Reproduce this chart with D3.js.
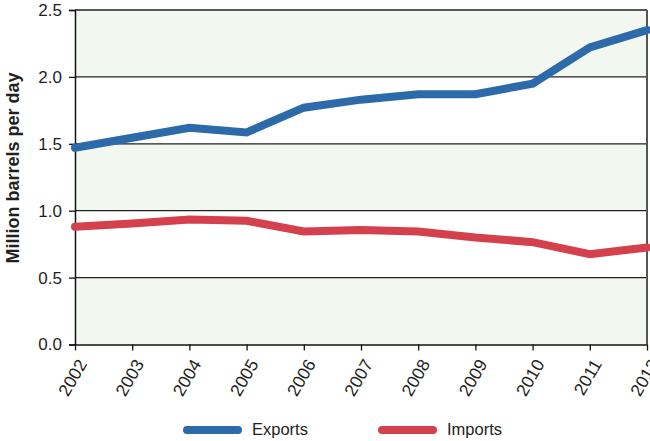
<!DOCTYPE html>
<html><head><meta charset="utf-8">
<script src="https://cdn.jsdelivr.net/npm/d3@7"></script>
<style>
body{margin:0;background:#fff;}
svg text{font-family:"Liberation Sans",Arial,sans-serif;fill:#231f20;}
</style></head><body>
<svg id="c" width="650" height="441"></svg>
<script>
const years = ["2002","2003","2004","2005","2006","2007","2008","2009","2010","2011","2012"];
const exportsVals = [1.47,1.545,1.62,1.585,1.77,1.83,1.87,1.87,1.95,2.22,2.35];
const importsVals = [0.88,0.905,0.935,0.925,0.845,0.855,0.845,0.80,0.765,0.675,0.725];
const yTicks = [0,0.5,1.0,1.5,2.0,2.5];
const seriesNames = ["Exports","Imports"];
const seriesColors = ["#2c6aa9","#d5404d"];

const svg = d3.select("#c");
const L=75, R=647, T=10, B=344.5;
const x = d3.scalePoint().domain(years).range([L,R]);
const y = d3.scaleLinear().domain([0,2.5]).range([B,T]);

// bands
const bands = [[0,0.5],[1.0,1.5],[2.0,2.5]];
svg.selectAll("rect.band").data(bands).enter().append("rect")
  .attr("x",L).attr("width",R-L)
  .attr("y",d=>y(d[1])).attr("height",d=>y(d[0])-y(d[1]))
  .attr("fill","#f2f7ef");

// gridlines
svg.selectAll("line.grid").data(yTicks.slice(1)).enter().append("line")
  .attr("x1",L).attr("x2",R).attr("y1",d=>y(d)).attr("y2",d=>y(d))
  .attr("stroke","#222").attr("stroke-width",1.3);
// right border
svg.append("line").attr("x1",R).attr("x2",R).attr("y1",T).attr("y2",B)
  .attr("stroke","#555").attr("stroke-width",2);

// y axis
const ya = svg.append("g").attr("transform",`translate(${L},0)`)
  .call(d3.axisLeft(y).tickValues(yTicks).tickFormat(d3.format(".1f")).tickSize(6).tickPadding(7));
ya.select(".domain").attr("stroke","#111").attr("stroke-width",1.5);
ya.selectAll(".tick line").attr("stroke","#111").attr("stroke-width",1.3);
ya.selectAll("text").attr("font-size",17).style("fill","#231f20");

// x axis
const xa = svg.append("g").attr("transform",`translate(0,${B})`)
  .call(d3.axisBottom(x).tickSize(6).tickSizeOuter(0));
xa.select(".domain").attr("stroke","#111").attr("stroke-width",1.5);
xa.selectAll(".tick line").attr("stroke","#111").attr("stroke-width",1.3);
xa.selectAll("text").attr("font-size",17.5).style("fill","#231f20")
  .attr("text-anchor","end").attr("dy",null).attr("y",0)
  .attr("transform","translate(8,17) rotate(-60)")
  .attr("dominant-baseline","middle");

// y label
svg.append("text").attr("transform","translate(14,168) rotate(-90)")
  .attr("text-anchor","middle").attr("dominant-baseline","middle")
  .attr("font-size",18).attr("font-weight","bold")
  .text("Million barrels per day");

// lines
const line = d3.line().x((d,i)=>x(years[i])).y(d=>y(d));
[exportsVals,importsVals].forEach((vals,i)=>{
  svg.append("path").datum(vals).attr("d",line).attr("fill","none")
    .attr("stroke",seriesColors[i]).attr("stroke-width",8)
    .attr("stroke-linejoin","miter").attr("stroke-linecap","round");
});

// legend
const lg = [{x:183},{x:378}];
seriesNames.forEach((n,i)=>{
  const g = svg.append("g").attr("transform",`translate(${lg[i].x},430)`);
  g.append("line").attr("x1",4).attr("x2",55).attr("y1",0).attr("y2",0)
    .attr("stroke",seriesColors[i]).attr("stroke-width",8).attr("stroke-linecap","round");
  g.append("text").attr("x",69).attr("y",1).attr("dominant-baseline","middle")
    .attr("font-size",16.5).text(n);
});
</script></body></html>
